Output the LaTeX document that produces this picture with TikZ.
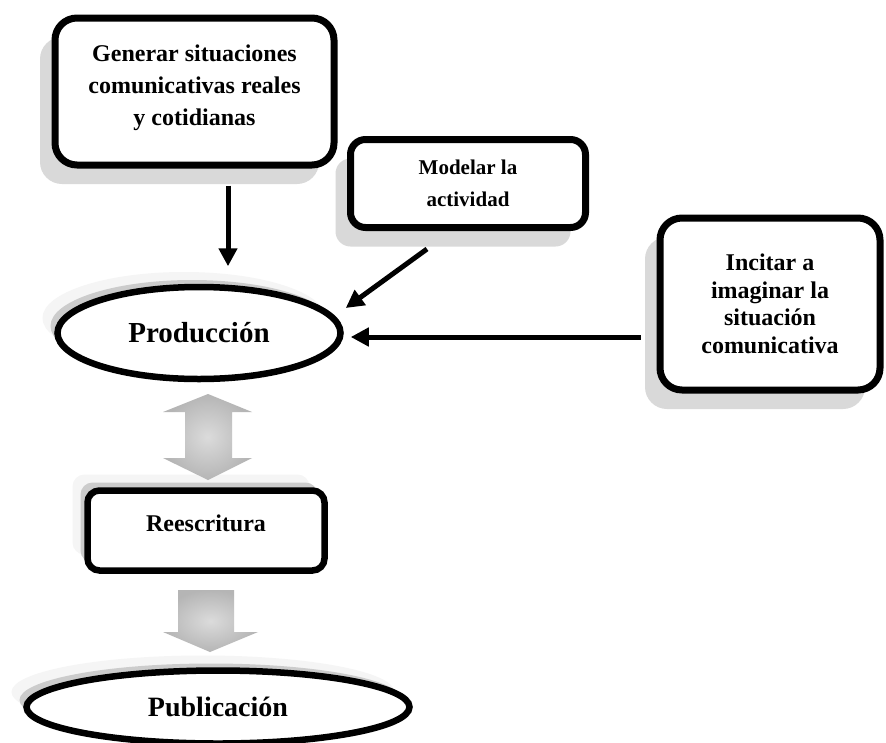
\documentclass[tikz,border=0pt]{standalone}
\usepackage{fontspec}
\setmainfont{Liberation Serif}
\usetikzlibrary{shapes.geometric,shadows,arrows.meta,calc}
\tikzset{
  bigbox/.style={draw, line width=7pt, rounded corners=22pt, fill=white, align=center,
    font=\bfseries\fontsize{24}{32}\selectfont,
    drop shadow={shadow xshift=-15pt, shadow yshift=-19pt, fill=gray!30, opacity=1}},
  ellnode/.style={ellipse, draw, line width=6.5pt, fill=white, inner sep=0pt,
    general shadow={shadow xshift=-15pt, shadow yshift=15pt, fill=gray!8},
    general shadow={shadow xshift=-7pt, shadow yshift=7pt, fill=gray!40}},
  flatbox/.style={draw, line width=6.5pt, rounded corners=12pt, fill=white, align=center,
    font=\bfseries\fontsize{24}{30}\selectfont,
    general shadow={shadow xshift=-15pt, shadow yshift=16pt, fill=gray!8},
    general shadow={shadow xshift=-7pt, shadow yshift=8pt, fill=gray!40}},
  arr/.style={line width=5pt, -{Triangle[length=18pt,width=18pt]}},
  blockarrow/.style={draw=none, inner color=gray!28, outer color=gray!58}
}
\begin{document}
\begin{tikzpicture}[x=1pt,y=-1pt]
\useasboundingbox (0,0) rectangle (886,742);
\fill[white] (0,0) rectangle (886,742);

% nodes
\node[bigbox, minimum width=279pt, minimum height=147pt] (gen) at (194.5,91.5)
  {Generar situaciones\\comunicativas reales\\y cotidianas\\[-20pt]};
\node[bigbox, rounded corners=15pt, minimum width=235pt, minimum height=88pt,
  font=\bfseries\fontsize{21}{32}\selectfont] (mod) at (468,183.5)
  {Modelar la\\actividad};
\node[bigbox, minimum width=220pt, minimum height=172pt,
  font=\bfseries\fontsize{24}{27.5}\selectfont] (inc) at (770,304)
  {Incitar a\\imaginar la\\situación\\comunicativa};
\node[ellnode, minimum width=283pt, minimum height=92pt,
  font=\bfseries\fontsize{29}{34}\selectfont] (prod) at (199,333) {Producción};
\node[flatbox, minimum width=237pt, minimum height=80pt] (rees) at (206,530.5)
  {Reescritura\\[-16pt]};
\node[ellnode, minimum width=383pt, minimum height=73pt,
  font=\bfseries\fontsize{28}{32}\selectfont] (pub) at (218,707) {Publicación};

% block arrows
\path[blockarrow] (208,394) -- (252,412) -- (232,412) -- (232,458) -- (252,458)
  -- (208,480) -- (163,458) -- (185,458) -- (185,412) -- (163,412) -- cycle;
\path[blockarrow] (178,590) -- (234,590) -- (234,632) -- (258,632) -- (210,652)
  -- (163,632) -- (178,632) -- cycle;

% connectors
\draw[arr] ([xshift=33.5pt,yshift=-17pt]gen.south) -- ([xshift=29pt,yshift=17.5pt]prod.north);
\draw[arr] ([xshift=-41pt,yshift=-18pt]mod.south) -- ([xshift=2pt,yshift=25pt]prod.east);
\draw[arr] ([xshift=-16pt,yshift=-33pt]inc.west) -- ([xshift=7pt,yshift=-4pt]prod.east);
\end{tikzpicture}
\end{document}
